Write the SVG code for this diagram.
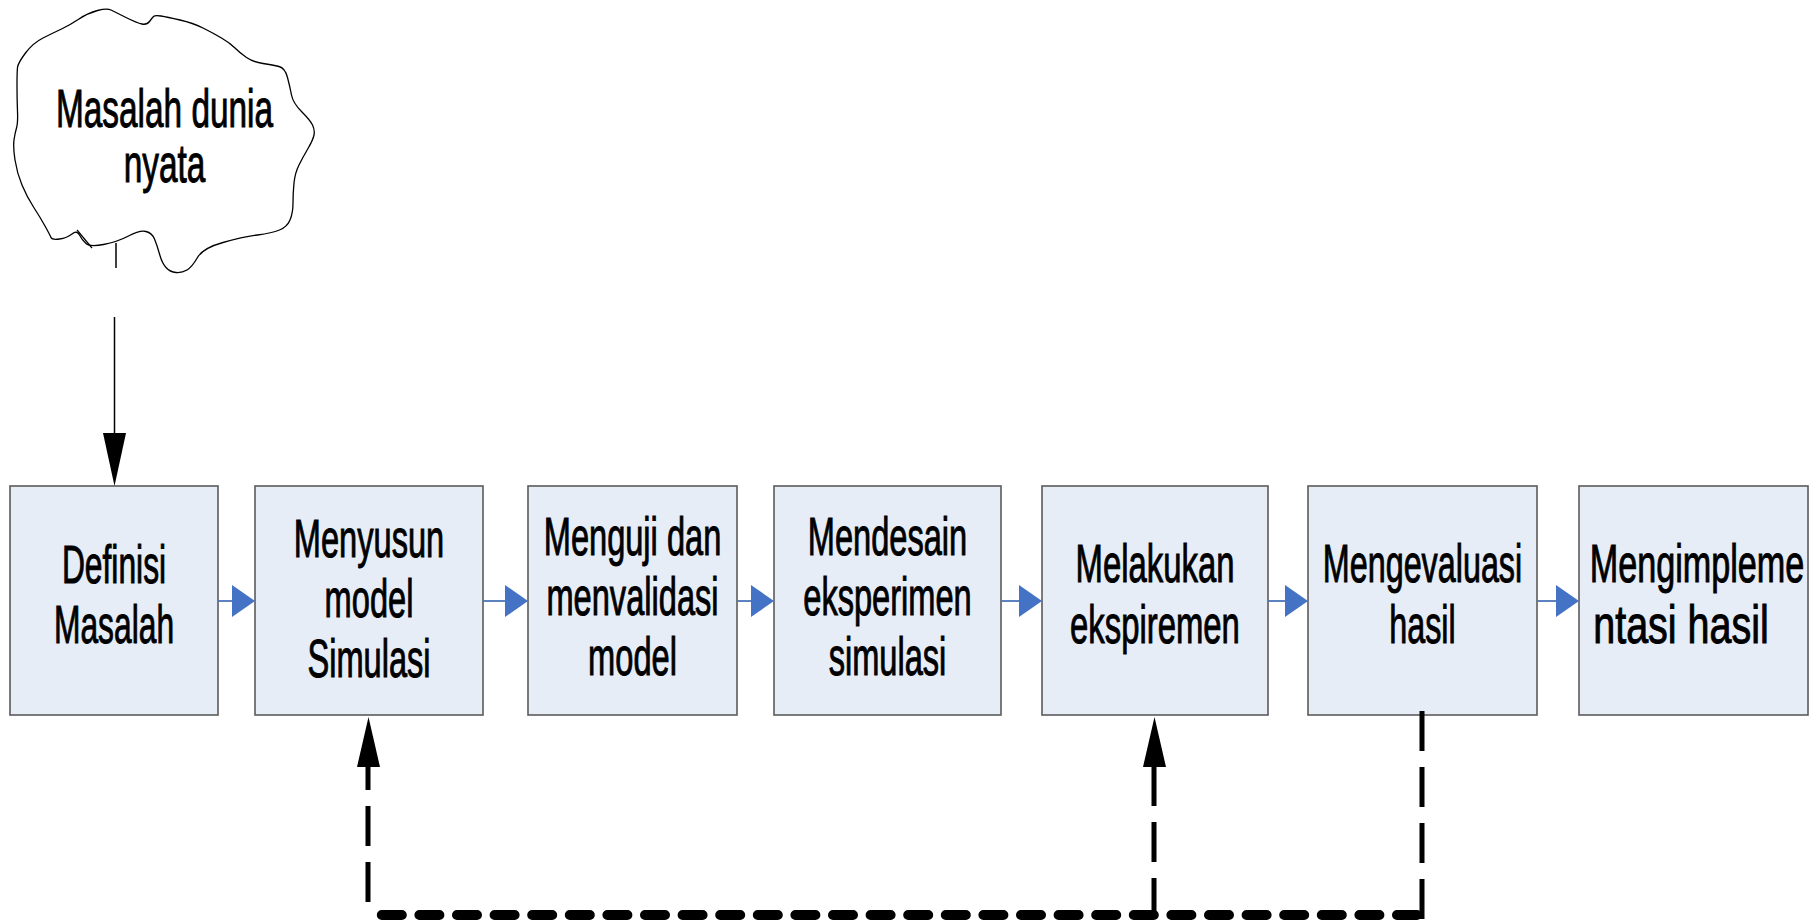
<svg xmlns="http://www.w3.org/2000/svg" width="1816" height="923" viewBox="0 0 1816 923">
<style>
.box{fill:#E7EDF7;stroke:#5a5a5a;stroke-width:1.6}
.t{font-family:"Liberation Sans",Arial,sans-serif;font-size:53px;fill:#000;stroke:#000;stroke-width:1;text-anchor:middle}
.flow{stroke:#4A74B8;stroke-width:1.8;fill:none}
.tri{fill:#4472C4}
.vd{stroke:#000;stroke-width:5;fill:none;stroke-dasharray:40 16}
.hd{stroke:#000;stroke-width:10;fill:none;stroke-dasharray:20 17.6;stroke-linecap:round}
</style>
<rect width="1816" height="923" fill="#fff"/>
<g id="cloud">
<path d="M17,86 Q17,72 17.5,67.5 Q18,63 25.5,53 Q33,43 43,38 Q53,33 61.5,29 Q70,25 79,19 Q88,13 97.5,10.5 Q107,8 111,10 Q115,12 126,17.5 Q137,23 142,24 Q147,25 149.5,21.5 Q152,18 153.5,16.5 Q155,15 161,16 Q167,17 180,20 Q193,23 203,28 Q213,33 221.5,38 Q230,43 235,48 Q240,53 246.5,57.5 Q253,62 263,63.5 Q273,65 279,66.5 Q285,68 287.5,77.5 Q290,87 291.5,95 Q293,103 301.5,111.5 Q310,120 312.5,125 Q315,130 314,135 Q313,140 308,148.5 Q303,157 299,165 Q295,173 294,183 Q293,193 293,203 Q293,213 290,220 Q287,227 279.5,230 Q272,233 257.5,235 Q243,237 223,242.5 Q203,248 197.5,257.5 Q192,267 187,270 Q182,273 176,272.5 Q170,272 166,267.5 Q162,263 159.5,254 Q157,245 154.5,239 Q152,233 146,231.5 Q140,230 128.5,236 Q117,242 103.5,244.5 Q90,247 86,243.5 Q82,240 79.5,235 Q77,230 72,234 Q67,238 59.5,239 Q52,240 51,237.5 Q50,235 45,226 Q40,217 33.5,207 Q27,197 22,185 Q17,173 15,160 Q13,147 14,140 Q15,133 16.5,128 Q18,123 17.5,111.5 Q17,100 17,86 Z" fill="#fff" stroke="#000" stroke-width="1.3"/>
<line x1="77" y1="230" x2="92" y2="248" stroke="#000" stroke-width="1.2"/>
<g transform="translate(164.5,0) scale(0.63,1)">
<text class="t" x="0" y="127" font-size="49">Masalah dunia</text>
<text class="t" x="0" y="182" font-size="49">nyata</text>
</g>
</g>
<g id="n1">
<rect class="box" x="10" y="486" width="208" height="229"/>
<g transform="translate(114,0) scale(0.6,1)"><text class="t" x="0" y="583">Definisi</text><text class="t" x="0" y="643">Masalah</text></g>
</g>
<g id="n2">
<rect class="box" x="255" y="486" width="228" height="229"/>
<g transform="translate(369,0) scale(0.615,1)"><text class="t" x="0" y="557">Menyusun</text><text class="t" x="0" y="617">model</text><text class="t" x="0" y="677">Simulasi</text></g>
</g>
<g id="n3">
<rect class="box" x="528" y="486" width="209" height="229"/>
<g transform="translate(632.5,0) scale(0.615,1)"><text class="t" x="0" y="555">Menguji dan</text><text class="t" x="0" y="615">menvalidasi</text><text class="t" x="0" y="675">model</text></g>
</g>
<g id="n4">
<rect class="box" x="774" y="486" width="227" height="229"/>
<g transform="translate(887.5,0) scale(0.615,1)"><text class="t" x="0" y="555">Mendesain</text><text class="t" x="0" y="615">eksperimen</text><text class="t" x="0" y="675">simulasi</text></g>
</g>
<g id="n5">
<rect class="box" x="1042" y="486" width="226" height="229"/>
<g transform="translate(1155,0) scale(0.62,1)"><text class="t" x="0" y="582">Melakukan</text><text class="t" x="0" y="643">ekspiremen</text></g>
</g>
<g id="n6">
<rect class="box" x="1308" y="486" width="229" height="229"/>
<g transform="translate(1422.5,0) scale(0.61,1)"><text class="t" x="0" y="582">Mengevaluasi</text><text class="t" x="0" y="643">hasil</text></g>
</g>
<g id="n7">
<rect class="box" x="1579" y="486" width="229" height="229"/>
<g transform="translate(1697,0) scale(0.645,1)"><text class="t" x="0" y="582">Mengimpleme</text></g>
<g transform="translate(1681,0) scale(0.745,1)"><text class="t" x="0" y="643">ntasi hasil</text></g>
</g>
<g id="connectors">
<line x1="116" y1="243" x2="116" y2="268" stroke="#000" stroke-width="1.5"/>
<line x1="114.5" y1="317" x2="114.5" y2="436" stroke="#000" stroke-width="1.5"/>
<polygon points="103,433 126,433 114.5,486" fill="#000"/>
<line class="flow" x1="218" y1="601" x2="233" y2="601"/><polygon class="tri" points="232,585 232,617 255,601"/>
<line class="flow" x1="483" y1="601" x2="506" y2="601"/><polygon class="tri" points="505,585 505,617 528,601"/>
<line class="flow" x1="737" y1="601" x2="752" y2="601"/><polygon class="tri" points="751,585 751,617 774,601"/>
<line class="flow" x1="1001" y1="601" x2="1020" y2="601"/><polygon class="tri" points="1019,585 1019,617 1042,601"/>
<line class="flow" x1="1268" y1="601" x2="1286" y2="601"/><polygon class="tri" points="1285,585 1285,617 1308,601"/>
<line class="flow" x1="1537" y1="601" x2="1557" y2="601"/><polygon class="tri" points="1556,585 1556,617 1579,601"/>
<line class="vd" x1="1422" y1="711" x2="1422" y2="920"/>
<line class="hd" x1="1417" y1="915" x2="375" y2="915"/>
<line class="vd" x1="368" y1="902" x2="368" y2="765" stroke-dasharray="40 17"/>
<polygon points="357,767 380,767 368.5,717" fill="#000"/>
<line class="vd" x1="1154" y1="918" x2="1154" y2="765"/>
<polygon points="1143,767 1166,767 1154.5,717" fill="#000"/>
</g>
</svg>
